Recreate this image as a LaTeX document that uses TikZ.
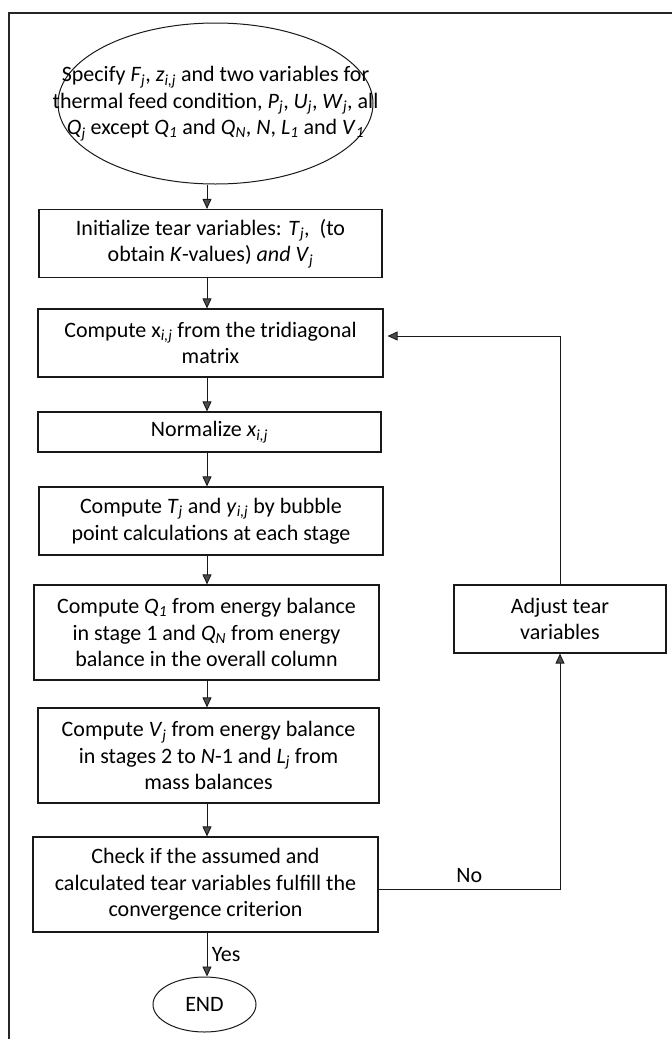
\documentclass[tikz,border=0pt]{standalone}
\usepackage{fontspec}
\setmainfont{Carlito}
\usetikzlibrary{shapes.geometric,arrows.meta,calc}
% italic symbol with italic subscript
\newcommand\sv[2]{\textit{#1}\textsubscript{\textit{#2}}}

\begin{document}
\begin{tikzpicture}[x=1pt,y=-1pt,
  every node/.style={font=\fontsize{22}{26.5}\selectfont, text=black},
  stepbox/.style={draw=black!90, line width=1.2pt, rectangle, align=center, inner sep=0pt},
  oval/.style={draw=black!90, line width=1pt, ellipse, inner sep=0pt},
  link/.style={draw=black!90, line width=0.9pt},
  arr/.style={link, -{Triangle[length=10pt,width=9pt,fill=black!70]}}]

\useasboundingbox (0,0) rectangle (672,1039);

% outer frame (top and left edges)
\draw[line width=2pt, black!85] (9,1039) -- (9,13) -- (672,13);

% vertical axis of the main column
\coordinate (spine) at (207,0);

% start ellipse with its text
\node[oval, minimum width=315pt, minimum height=161pt] (start) at (215.5,103.5) {};
\node[align=center, inner sep=0pt] (starttxt) at (start.center)
  {Specify \sv{F}{j}, \sv{z}{i,j} and two variables for\\
   thermal feed condition, \sv{P}{j}, \sv{U}{j}, \sv{W}{j}, all\\
   \sv{Q}{j} except \sv{Q}{1} and \sv{Q}{N}, \textit{N}, \sv{L}{1} and \sv{V}{1}};

\node[stepbox, minimum width=343pt, minimum height=68pt] (b1) at (210.5,243.5)
  {Initialize tear variables: \sv{T}{j},\ \ (to\\ obtain \textit{K}-values) \textit{and} \sv{V}{j}};
\node[stepbox, minimum width=345pt, minimum height=68pt] (b2) at (210.5,343)
  {Compute x\textsubscript{\textit{i,j}} from the tridiagonal\\ matrix};
\node[stepbox, minimum width=343pt, minimum height=40pt] (b3) at (209.5,432)
  {Normalize \sv{x}{i,j}};
\node[stepbox, minimum width=344pt, minimum height=68pt] (b4) at (211,521)
  {Compute \sv{T}{j} and \sv{y}{i,j} by bubble\\ point calculations at each stage};
\node[stepbox, minimum width=345pt, minimum height=95pt] (b5) at (206.5,632.5)
  {Compute \sv{Q}{1} from energy balance\\ in stage 1 and \sv{Q}{N} from energy\\ balance in the overall column};
\node[stepbox, minimum width=341pt, minimum height=95pt] (b6) at (208.5,755.5)
  {Compute \sv{V}{j} from energy balance\\ in stages 2 to \textit{N}-1 and \sv{L}{j} from\\ mass balances};
\node[stepbox, minimum width=345pt, minimum height=95pt] (b7) at (205.5,884.5)
  {Check if the assumed and\\ calculated tear variables fulfill the\\ convergence criterion};
\node[stepbox, minimum width=212pt, minimum height=68pt] (adj) at (560,619)
  {Adjust tear\\ variables};
\node[oval, minimum width=103pt, minimum height=55pt] (end) at (204.5,1004.5) {END};

% main downward flow
\draw[arr] (start.south -| spine) -- (b1.north -| spine);
\draw[arr] (b1.south -| spine) -- (b2.north -| spine);
\draw[arr] (b2.south -| spine) -- (b3.north -| spine);
\draw[arr] (b3.south -| spine) -- (b4.north -| spine);
\draw[arr] (b4.south -| spine) -- (b5.north -| spine);
\draw[arr] (b5.south -| spine) -- (b6.north -| spine);
\draw[arr] (b6.south -| spine) -- (b7.north -| spine);
\draw[arr] (b7.south -| spine) -- node[right, xshift=1pt] {Yes} (end.north -| spine);

% iteration loop
\draw[arr] ([yshift=-4.5pt]b7.east) -| node[pos=0.25, above=3pt] {No} (adj.south);
\draw[arr, shorten >=4pt] (adj.north) |- ([yshift=7pt]b2.east);

\end{tikzpicture}
\end{document}
